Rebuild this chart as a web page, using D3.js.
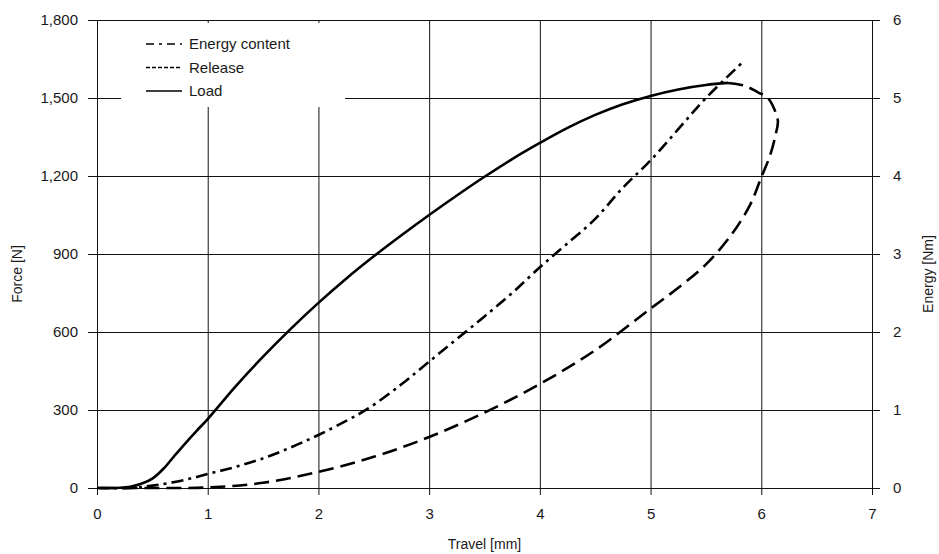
<!DOCTYPE html>
<html>
<head>
<meta charset="utf-8">
<script src="https://cdn.jsdelivr.net/npm/d3@7"></script>
<style>
  html, body { margin: 0; padding: 0; background: #fff; }
  svg { display: block; font-family: "Liberation Sans", Arial, sans-serif; }
</style>
</head>
<body>
<svg id="chart" width="939" height="554"></svg>
<script>
// ---- data ----
const xTicks = [0, 1, 2, 3, 4, 5, 6, 7];
const forceTicks = [0, 300, 600, 900, 1200, 1500, 1800];
const energyTicks = [0, 1, 2, 3, 4, 5, 6];

// Load curve: travel [mm], force [N]
const loadTravel = [0, 0.1, 0.2, 0.3, 0.4, 0.5, 0.6, 0.7, 0.8, 0.9, 1.0, 1.25, 1.5, 1.75, 2.0, 2.25, 2.5, 2.75, 3.0, 3.25, 3.5, 3.75, 4.0, 4.25, 4.5, 4.75, 5.0, 5.25, 5.5, 5.7];
const loadForce  = [0, 0, 1, 5, 16, 36, 74, 124, 173, 220, 265, 390, 505, 612, 712, 805, 891, 972, 1050, 1125, 1197, 1265, 1327, 1385, 1435, 1476, 1508, 1533, 1550, 1558];

// Release curve (ordered along the path from the peak back to zero)
const releaseTravel = [5.7, 5.85, 5.97, 6.06, 6.12, 6.15, 6.13, 6.08, 6.0, 5.9, 5.73, 5.5, 5.25, 5.0, 4.5, 4.0, 3.5, 3.0, 2.5, 2.0, 1.5, 1.0, 0.5, 0];
const releaseForce  = [1558, 1547, 1522, 1500, 1455, 1410, 1360, 1280, 1195, 1090, 974, 860, 770, 690, 530, 400, 290, 196, 120, 62, 20, 2, 0, 0];

// Energy content: travel [mm], energy [Nm]
const energyTravel = [0, 0.3, 0.5, 0.75, 1.0, 1.25, 1.5, 1.75, 2.0, 2.25, 2.45, 2.75, 3.0, 3.25, 3.5, 3.75, 4.0, 4.22, 4.5, 4.75, 5.0, 5.25, 5.5, 5.84];
const energyValue  = [0, 0, 0.03, 0.09, 0.18, 0.27, 0.38, 0.52, 0.68, 0.86, 1.02, 1.33, 1.62, 1.91, 2.2, 2.5, 2.83, 3.1, 3.45, 3.85, 4.2, 4.6, 5.0, 5.47];

const legendLabels = ["Energy content", "Release", "Load"];

// ---- layout ----
const svg = d3.select("#chart");
const X0 = 97, X1 = 872, Y0 = 488, Y1 = 20;
const x = d3.scaleLinear().domain([0, 7]).range([X0, X1]);
const yF = d3.scaleLinear().domain([0, 1800]).range([Y0, Y1]);
const yE = d3.scaleLinear().domain([0, 6]).range([Y0, Y1]);

const gridColor = "#111";
const textColor = "#1a1a1a";

// horizontal grid + left labels
const gy = svg.append("g").attr("transform", `translate(${X0 - 9},0)`)
  .call(d3.axisLeft(yF).tickValues(forceTicks).tickFormat(d3.format(","))
        .tickSizeInner(-(X1 - X0 + 17)).tickSizeOuter(0).tickPadding(10));
gy.select(".domain").remove();
gy.selectAll(".tick line").attr("stroke", gridColor).attr("stroke-width", 1);
gy.selectAll(".tick text").attr("fill", textColor).style("font-size", "15px");

// right labels
const gyr = svg.append("g").attr("transform", `translate(${X1 + 8},0)`)
  .call(d3.axisRight(yE).tickValues(energyTicks).tickFormat(d3.format("d"))
        .tickSize(0).tickPadding(13));
gyr.select(".domain").remove();
gyr.selectAll(".tick text").attr("fill", textColor).style("font-size", "15px");

// vertical grid + bottom labels
const gx = svg.append("g").attr("transform", `translate(0,${Y0 + 7})`)
  .call(d3.axisBottom(x).tickValues(xTicks).tickFormat(d3.format("d"))
        .tickSizeInner(-(Y0 + 7 - Y1)).tickSizeOuter(0).tickPadding(13));
gx.select(".domain").remove();
gx.selectAll(".tick line").attr("stroke", gridColor).attr("stroke-width", 1);
gx.selectAll(".tick text").attr("fill", textColor).style("font-size", "15px");

// axis titles
svg.append("text").attr("x", x(3.5)).attr("y", 549).attr("text-anchor", "middle")
  .attr("fill", textColor).style("font-size", "14px").text("Travel [mm]");
svg.append("text").attr("transform", `translate(22,${(Y0 + Y1) / 2 + 20}) rotate(-90)`)
  .attr("text-anchor", "middle").attr("fill", textColor).style("font-size", "14px").text("Force [N]");
svg.append("text").attr("transform", `translate(933,${(Y0 + Y1) / 2 + 20}) rotate(-90)`)
  .attr("text-anchor", "middle").attr("fill", textColor).style("font-size", "14px").text("Energy [Nm]");

// legend box (covers grid)
const lg = svg.append("g");
lg.append("rect").attr("x", 121).attr("y", 23).attr("width", 224).attr("height", 84).attr("fill", "#fff");

const dashEnergy = "12,5,3,5";
const dashRelease = "15,7";
const legendDashSample = ["8,5,3,5", "4,2", null];
legendLabels.forEach((lab, i) => {
  const yy = 44 + i * 23.5;
  lg.append("line").attr("x1", 146).attr("x2", 182).attr("y1", yy).attr("y2", yy)
    .attr("stroke", "#000").attr("stroke-width", 1.6)
    .attr("stroke-dasharray", legendDashSample[i]);
  lg.append("text").attr("x", 189).attr("y", yy + 5).attr("fill", textColor)
    .style("font-size", "15px").text(lab);
});

// curves
const lineF = d3.line().x(d => x(d[0])).y(d => yF(d[1])).curve(d3.curveCatmullRom.alpha(0.5));
const lineE = d3.line().x(d => x(d[0])).y(d => yE(d[1])).curve(d3.curveCatmullRom.alpha(0.5));

const loadData = loadTravel.map((t, i) => [t, loadForce[i]]);
const releaseData = releaseTravel.map((t, i) => [t, releaseForce[i]]);
const energyData = energyTravel.map((t, i) => [t, energyValue[i]]);

svg.append("path").datum(releaseData).attr("d", lineF).attr("fill", "none")
  .attr("stroke", "#000").attr("stroke-width", 2.6).attr("stroke-dasharray", dashRelease);
svg.append("path").datum(energyData).attr("d", lineE).attr("fill", "none")
  .attr("stroke", "#000").attr("stroke-width", 2.6).attr("stroke-dasharray", dashEnergy);
svg.append("path").datum(loadData).attr("d", lineF).attr("fill", "none")
  .attr("stroke", "#000").attr("stroke-width", 2.6);
</script>
</body>
</html>
